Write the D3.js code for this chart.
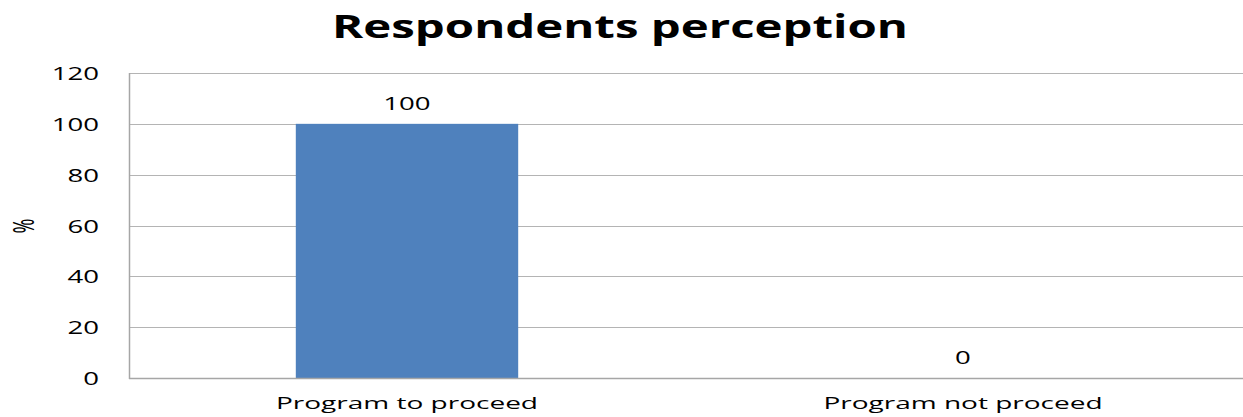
<!DOCTYPE html>
<html>
<head>
<meta charset="utf-8">
<script src="https://cdn.jsdelivr.net/npm/d3@7"></script>
<style>
  html, body { margin: 0; padding: 0; background: #fff; }
  svg { display: block; }
  text { font-family: "Open Sans", "DejaVu Sans", sans-serif; fill: #000; }
</style>
</head>
<body>
<svg id="chart" width="1243" height="417"></svg>
<script>
// Chart data
const title = "Respondents perception";
const categories = ["Program to proceed", "Program not proceed"];
const values = [100, 0];
const yTicks = [0, 20, 40, 60, 80, 100, 120];
const yLabel = "%";

const W = 1243, H = 417;
const plot = { left: 129, right: 1241, top: 73, bottom: 378 };

const svg = d3.select("#chart");

const x = d3.scaleBand()
  .domain(categories)
  .range([plot.left, plot.right])
  .paddingInner(0.6)
  .paddingOuter(0.3);

const y = d3.scaleLinear()
  .domain([0, 120])
  .range([plot.bottom, plot.top]);

// Widen glyphs horizontally to the wide lettering of the chart
function stretch(sel, factor) {
  sel.each(function () {
    const w = this.getComputedTextLength();
    d3.select(this)
      .attr("textLength", w * factor)
      .attr("lengthAdjust", "spacingAndGlyphs");
  });
}

// Horizontal gridlines
svg.append("g")
  .selectAll("line")
  .data(yTicks.filter(d => d > 0))
  .join("line")
  .attr("x1", plot.left)
  .attr("x2", W)
  .attr("y1", d => Math.round(y(d)) + 0.5)
  .attr("y2", d => Math.round(y(d)) + 0.5)
  .attr("stroke", "#b4b4b4")
  .attr("stroke-width", 1.2);

// Bars
svg.append("g")
  .selectAll("rect")
  .data(values)
  .join("rect")
  .attr("x", (d, i) => x(categories[i]))
  .attr("width", x.bandwidth())
  .attr("y", d => y(d))
  .attr("height", d => y(0) - y(d))
  .attr("fill", "#4f81bd");

// Axis lines
svg.append("line")
  .attr("x1", plot.left + 0.5).attr("x2", plot.left + 0.5)
  .attr("y1", plot.top).attr("y2", plot.bottom + 1)
  .attr("stroke", "#a6a6a6").attr("stroke-width", 1.5);
svg.append("line")
  .attr("x1", plot.left).attr("x2", W)
  .attr("y1", Math.round(y(0)) + 0.5).attr("y2", Math.round(y(0)) + 0.5)
  .attr("stroke", "#a6a6a6").attr("stroke-width", 1.5);

// Y tick labels
svg.append("g")
  .selectAll("text")
  .data(yTicks)
  .join("text")
  .attr("x", 99)
  .attr("y", d => y(d) + 7)
  .attr("text-anchor", "end")
  .attr("font-size", 19)
  .text(d => d)
  .call(stretch, 1.45);

// Category labels
svg.append("g")
  .selectAll("text")
  .data(categories)
  .join("text")
  .attr("x", d => x(d) + x.bandwidth() / 2)
  .attr("y", 409)
  .attr("text-anchor", "middle")
  .attr("font-size", 16)
  .text(d => d)
  .call(stretch, 1.75);

// Value labels
svg.append("g")
  .selectAll("text")
  .data(values)
  .join("text")
  .attr("x", (d, i) => x(categories[i]) + x.bandwidth() / 2)
  .attr("y", d => y(d) - 14)
  .attr("text-anchor", "middle")
  .attr("font-size", 19)
  .text(d => d)
  .call(stretch, 1.45);

// Y axis title
svg.append("text")
  .attr("transform", "translate(34,226) scale(1.6,1) rotate(-90)")
  .attr("text-anchor", "middle")
  .attr("font-size", 18)
  .text(yLabel);

// Chart title
svg.append("text")
  .attr("x", 620)
  .attr("y", 38)
  .attr("text-anchor", "middle")
  .attr("font-size", 32)
  .attr("font-weight", "bold")
  .text(title)
  .call(stretch, 1.48);
</script>
</body>
</html>
